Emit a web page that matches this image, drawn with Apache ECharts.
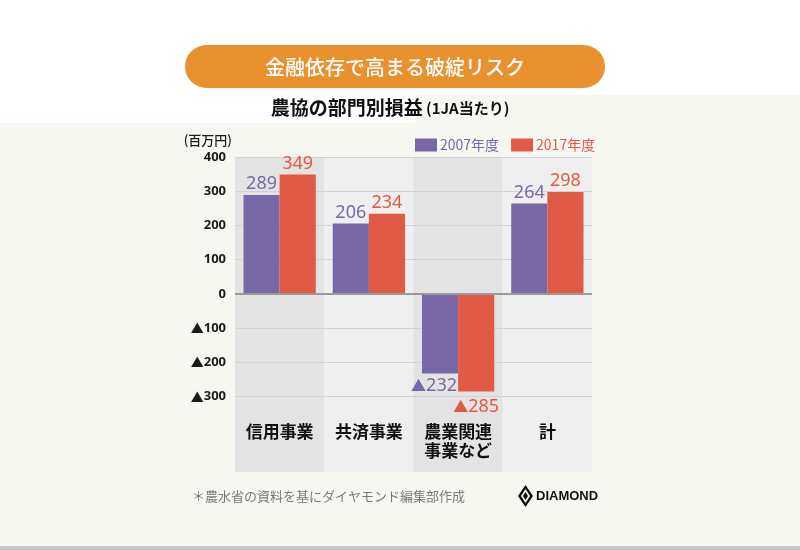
<!DOCTYPE html>
<html>
<head>
<meta charset="utf-8">
<script src="https://cdn.jsdelivr.net/npm/echarts@6/dist/echarts.min.js"></script>
<style>
html,body{margin:0;padding:0;background:#fff;}
#chart{width:800px;height:550px;}
</style>
</head>
<body>
<div id="chart"></div>
<script>
var categories = ['信用事業', '共済事業', '農業関連\n事業など', '計'];
var series2007 = [289, 206, -232, 264];
var series2017 = [349, 234, -285, 298];
var seriesNames = ['2007年度', '2017年度'];
var yTicks = { min: -300, max: 400, interval: 100 };
var titleText = '金融依存で高まる破綻リスク';
var subtitleMain = '農協の部門別損益';
var subtitleSub = ' (1JA当たり)';
var unitText = '(百万円)';
var noteText = '＊農水省の資料を基にダイヤモンド編集部作成';
var brandText = 'DIAMOND';

var PURPLE = '#7868a6';
var RED = '#e15a45';
var FONT = '"Noto Sans CJK JP", "Noto Sans", sans-serif';
var CJK = '"Noto Sans CJK JP", sans-serif';

function fmtRich(v) { return v < 0 ? '{t|▲}' + (-v) : String(v); }

function makeData(arr, negOffset) {
  return arr.map(function (v) {
    if (v < 0) {
      return { value: v, label: { position: 'bottom', distance: 3, offset: negOffset } };
    }
    return v;
  });
}

var chart = echarts.init(document.getElementById('chart'), null, { renderer: 'canvas' });

function barLabel(color) {
  return {
    show: true, position: 'top', distance: 2,
    formatter: function (p) { return fmtRich(p.value); },
    color: color, fontSize: 18, fontFamily: '"Noto Sans", sans-serif',
    rich: { t: { fontFamily: CJK, fontSize: 15, color: color } }
  };
}

var option = {
  backgroundColor: '#ffffff',
  animation: false,
  textStyle: { fontFamily: FONT },
  legend: {
    left: 410, top: 133,
    itemWidth: 22, itemHeight: 13, itemGap: 12,
    icon: 'rect',
    textStyle: { fontSize: 14, fontFamily: FONT, padding: [0, 0, 0, -2] },
    data: [
      { name: seriesNames[0], textStyle: { color: PURPLE } },
      { name: seriesNames[1], textStyle: { color: RED } }
    ]
  },
  grid: [
    { left: 235, right: 208, top: 157, bottom: 153.3, containLabel: false },
    { left: 235, right: 208, top: 157, bottom: 78, containLabel: false }
  ],
  xAxis: [
    {
      type: 'category', gridIndex: 0, data: categories,
      axisLine: { show: false, onZero: false },
      axisTick: { show: false },
      axisLabel: { margin: 25, fontSize: 17, fontWeight: 'bold', color: '#111', lineHeight: 19, fontFamily: FONT },
      z: 2
    },
    {
      type: 'category', gridIndex: 1, data: categories,
      axisLine: { show: false }, axisTick: { show: false }, axisLabel: { show: false },
      splitArea: { show: true, areaStyle: { color: ['#e3e3e3', '#efefef'] } },
      z: -1
    }
  ],
  yAxis: [
    {
      type: 'value', gridIndex: 0,
      min: yTicks.min, max: yTicks.max, interval: yTicks.interval,
      axisLine: { show: false }, axisTick: { show: false },
      axisLabel: { formatter: fmtRich, fontSize: 13, fontWeight: 'bold', color: '#1a1a1a', margin: 9, fontFamily: '"Noto Sans", sans-serif',
        rich: { t: { fontFamily: CJK, fontSize: 13, fontWeight: 'bold', color: '#1a1a1a' } } },
      splitLine: { lineStyle: { color: '#d2d2d2', width: 1 } },
      z: 2
    },
    {
      type: 'value', gridIndex: 1, min: 0, max: 1,
      axisLine: { show: false }, axisTick: { show: false }, axisLabel: { show: false },
      splitLine: { show: false }, z: -1
    }
  ],
  series: [
    {
      name: seriesNames[0], type: 'bar', xAxisIndex: 0, yAxisIndex: 0,
      data: makeData(series2007, [-6, 0]),
      itemStyle: { color: PURPLE },
      barGap: 0, barCategoryGap: '19%',
      label: barLabel(PURPLE),
      markLine: {
        silent: true, symbol: 'none', label: { show: false },
        lineStyle: { color: '#9a9a9a', width: 2, type: 'solid' },
        data: [{ yAxis: 0 }]
      },
      z: 3
    },
    {
      name: seriesNames[1], type: 'bar', xAxisIndex: 0, yAxisIndex: 0,
      data: makeData(series2017, [0, 3]),
      itemStyle: { color: RED },
      barGap: 0, barCategoryGap: '19%',
      label: barLabel(RED),
      z: 3
    }
  ],
  graphic: [
    { type: 'rect', z: -10, silent: true, shape: { x: 0, y: 95, width: 800, height: 451 }, style: { fill: '#f7f7f2' } },
    { type: 'rect', z: -9, silent: true, shape: { x: 0, y: 95, width: 415, height: 28 }, style: { fill: '#ffffff' } },
    { type: 'rect', z: -9, silent: true, shape: { x: 0, y: 546, width: 800, height: 4 }, style: { fill: '#c8c8c8' } },
    { type: 'rect', z: 5, silent: true, shape: { x: 185, y: 45, width: 420, height: 43, r: 21.5 }, style: { fill: '#e8912e' } },
    { type: 'text', z: 6, silent: true, x: 395, y: 67,
      style: { text: titleText, fill: '#ffffff', font: '500 20px "Noto Sans CJK JP", sans-serif', textAlign: 'center', textVerticalAlign: 'middle' } },
    { type: 'text', z: 6, silent: true, x: 390, y: 108,
      style: { text: '{a|' + subtitleMain + '}{b|' + subtitleSub + '}', textAlign: 'center', textVerticalAlign: 'middle',
        rich: {
          a: { fontSize: 19, fontWeight: 'bold', fill: '#111', fontFamily: CJK },
          b: { fontSize: 15, fontWeight: 'bold', fill: '#111', fontFamily: CJK }
        } } },
    { type: 'text', z: 6, silent: true, x: 232, y: 140,
      style: { text: unitText, fill: '#1a1a1a', font: '500 13px "Noto Sans CJK JP", sans-serif', textAlign: 'right', textVerticalAlign: 'middle' } },
    { type: 'text', z: 6, silent: true, x: 192, y: 496,
      style: { text: noteText, fill: '#7a7a7a', font: '13px "Noto Sans CJK JP", sans-serif', textAlign: 'left', textVerticalAlign: 'middle' } },
    { type: 'polygon', z: 6, silent: true, shape: { points: [[525.5, 485], [533, 496], [525.5, 507], [518, 496]] }, style: { fill: '#111' } },
    { type: 'polygon', z: 7, silent: true, shape: { points: [[525.5, 489], [530, 496], [525.5, 503], [521, 496]] }, style: { fill: '#f7f7f2' } },
    { type: 'polygon', z: 8, silent: true, shape: { points: [[525.5, 492], [528, 496], [525.5, 500], [523, 496]] }, style: { fill: '#111' } },
    { type: 'text', z: 6, silent: true, x: 536, y: 496,
      style: { text: brandText, fill: '#111', font: 'bold 13px "Liberation Sans", Arial, sans-serif', textAlign: 'left', textVerticalAlign: 'middle' } }
  ]
};

chart.setOption(option);
</script>
</body>
</html>
